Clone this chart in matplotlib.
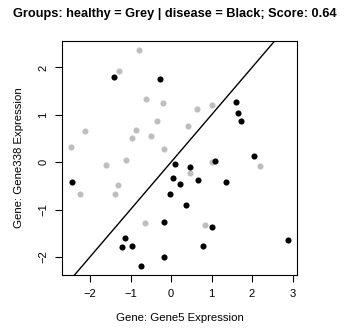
import numpy as np
import matplotlib
matplotlib.use("Agg")
import matplotlib.pyplot as plt

# healthy (grey) samples
healthy_x = [-0.80, -1.28, -0.63, -0.19, 0.64, 1.00, -2.13, -0.87, -0.35, -0.49, -0.96, 0.43,
             -2.47, -0.18, -1.61, -1.10, 1.01, 0.47, 2.20, -2.25, -1.31, -1.38, -0.65, 0.84]
healthy_y = [2.37, 1.93, 1.34, 1.24, 1.12, 1.21, 0.65, 0.68, 0.86, 0.56, 0.50, 0.77,
             0.32, 0.27, -0.05, 0.04, 0.01, -0.23, -0.08, -0.67, -0.48, -0.67, -1.28, -1.33]

# disease (black) samples
disease_x = [-1.42, -0.27, 1.61, 1.66, 1.73, 2.06, 1.09, 0.09, 0.48, 0.05, 0.23, 0.67, 1.36,
             -2.45, -0.02, 0.37, -0.18, 1.00, -1.13, -1.20, -0.97, 0.78, -0.17, -0.74, 2.89]
disease_y = [1.80, 1.76, 1.26, 1.04, 0.86, 0.13, 0.02, -0.03, -0.10, -0.34, -0.46, -0.38, -0.41,
             -0.41, -0.67, -0.91, -1.27, -1.37, -1.60, -1.80, -1.77, -1.78, -2.01, -2.20, -1.64]

# separating line y = a + b*x
line_a = 0.0
line_b = 1.0

score = 0.64

plt.rcParams['font.family'] = ['Liberation Sans', 'DejaVu Sans']

fig = plt.figure(figsize=(3.5, 3.34), dpi=100)
ax = fig.add_axes([0.178, 0.1766, 0.670, 0.700])

ax.plot(healthy_x, healthy_y, 'o', color='#BEBEBE', markersize=4.4, markeredgewidth=0)
ax.plot(disease_x, disease_y, 'o', color='black', markersize=4.4, markeredgewidth=0)

# R-style 4% padding
allx = np.array(healthy_x + disease_x)
ally = np.array(healthy_y + disease_y)
px = 0.04 * (allx.max() - allx.min())
py = 0.04 * (ally.max() - ally.min())
ax.set_xlim(allx.min() - px, allx.max() + px)
ax.set_ylim(ally.min() - py, ally.max() + py)

xs = np.array(ax.get_xlim())
ax.plot(xs, line_a + line_b * xs, color='black', linewidth=1.0)
ax.set_xlim(allx.min() - px, allx.max() + px)

ax.set_xticks([-2, -1, 0, 1, 2, 3])
ax.set_yticks([-2, -1, 0, 1, 2])
ax.set_xticklabels(['\u22122', '\u22121', '0', '1', '2', '3'])
ax.set_yticklabels(['\u22122', '\u22121', '0', '1', '2'], rotation=90, va='center')
ax.tick_params(direction='out', length=5, width=0.8, labelsize=8, pad=5)
for s in ax.spines.values():
    s.set_linewidth(0.8)

ax.set_xlabel('Gene: Gene5 Expression', fontsize=8.2, labelpad=10.5)
ax.set_ylabel('Gene: Gene338 Expression', fontsize=8.2, labelpad=10.5)
fig.text(0.5, 0.958, 'Groups: healthy = Grey | disease = Black; Score: %.2f' % score,
         ha='center', va='center', fontsize=9.2, fontweight='bold')

fig.savefig('out.png', dpi=100)
